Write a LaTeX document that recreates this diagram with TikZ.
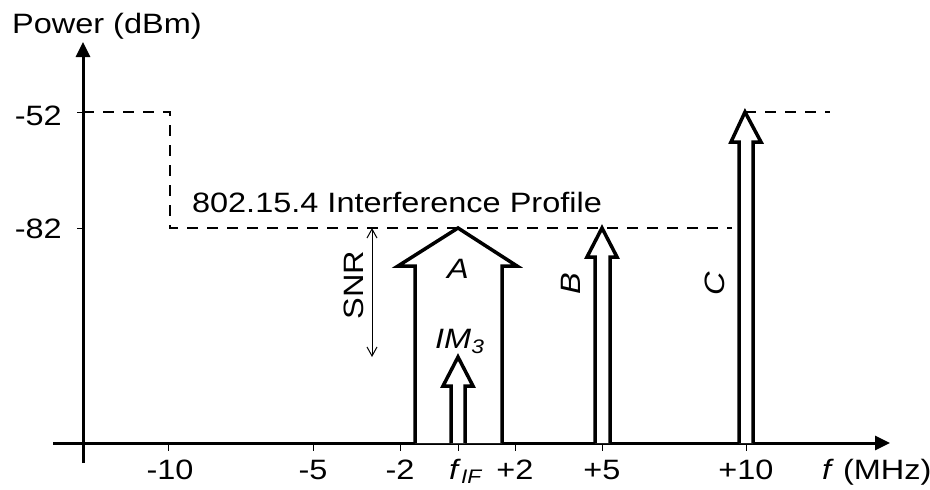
\documentclass[tikz,border=0pt]{standalone}
\usepackage{fontspec}
\setmainfont{Liberation Sans}[FakeStretch=1.16]
\usetikzlibrary{arrows.meta}
\begin{document}
\begin{tikzpicture}[x=1pt,y=-1pt,
  lbl/.style={font=\fontsize{28}{32}\selectfont, inner sep=0pt},
  axisline/.style={line width=3pt},
  sig/.style={line width=3.5pt, line join=miter, fill=white},
  prof/.style={line width=2pt, dash pattern=on 11pt off 9pt},
  tickmark/.style={line width=1pt}]
\useasboundingbox (0,0) rectangle (930,490);

% interference profile (dashed)
\draw[prof] (83,112) -- (170,112) -- (170,228) -- (732,228);
\draw[prof] (745,112) -- (830,112);

% axes
\draw[axisline,-{Triangle[length=15pt,width=14pt]}] (83,463) -- (83,42);
\draw[axisline,-{Triangle[length=15pt,width=14pt]}] (53,443) -- (890,443);

% ticks on the frequency axis
\foreach \x in {168,313,400,458,515,602,746}
  \draw[tickmark] (\x,445) -- (\x,451);
% ticks on the power axis
\foreach \y in {112,228}
  \draw[tickmark] (77,\y) -- (83,\y);

% signals as block arrows
\draw[sig] (415,443) -- (415,266) -- (398,266) -- (458,228) -- (517,266) -- (502,266) -- (502,443);
\draw[sig] (451,443) -- (451,386) -- (443,386) -- (458,357) -- (473,386) -- (465,386) -- (465,443);
\draw[sig] (595,443) -- (595,257) -- (587,257) -- (602,228) -- (617,257) -- (610,257) -- (610,443);
\draw[sig] (739,443) -- (739,142) -- (731,142) -- (745,112) -- (761,142) -- (753,142) -- (753,443);

% SNR span
\coordinate (snrtop) at (372,228);
\coordinate (snrbot) at (372,357);
\draw[line width=1pt,{Straight Barb[length=9pt,width=10pt]}-{Straight Barb[length=9pt,width=10pt]}] (snrtop) -- (snrbot);
\node[lbl,rotate=90] (snr) at (354,285) {SNR};

% labels
\node[lbl,anchor=base west] (ylabel) at (12,33) {Power (dBm)};
\node[lbl,anchor=base east] (p52) at (62,125) {-52};
\node[lbl,anchor=base east] (p82) at (62,238) {-82};
\node[lbl,anchor=base] (profile) at (397,212) {802.15.4 Interference Profile};

\node[lbl,anchor=base] (labA) at (458,278) {\textit{A}};
\node[lbl,anchor=base west] (labIM) at (435,348) {\textit{IM}\textsubscript{\textit{3}}};
\node[lbl,rotate=90] (labB) at (571,284) {\textit{B}};
\node[lbl,rotate=90] (labC) at (715,284) {\textit{C}};

\node[lbl,anchor=base] (t1) at (170,479) {-10};
\node[lbl,anchor=base] (t2) at (313,479) {-5};
\node[lbl,anchor=base] (t3) at (400,479) {-2};
\node[lbl,anchor=base west] (t4) at (449,479) {\textit{f}\textsubscript{\textit{IF}}};
\node[lbl,anchor=base] (t5) at (515,479) {+2};
\node[lbl,anchor=base] (t6) at (602,479) {+5};
\node[lbl,anchor=base] (t7) at (746,479) {+10};
\node[lbl,anchor=base west] (xlabel) at (822,479) {\textit{f} (MHz)};
\end{tikzpicture}
\end{document}
